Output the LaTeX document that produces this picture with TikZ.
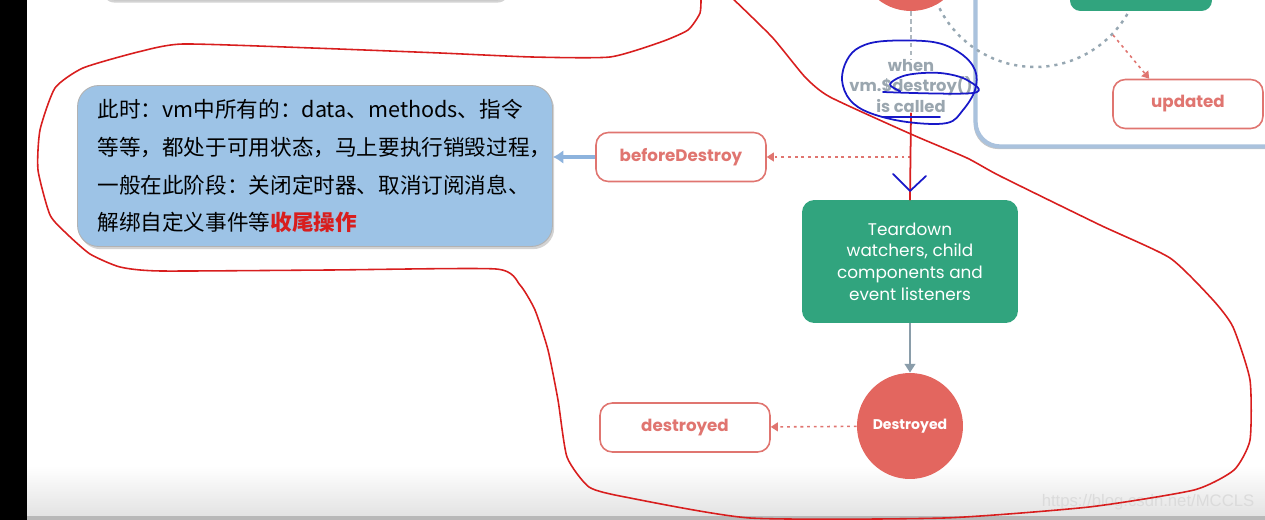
\documentclass[tikz,border=0pt]{standalone}
\usepackage{fontspec}
\newfontfamily\cjk{Noto Sans CJK SC}
\newfontfamily\vue{Poppins}
\newfontfamily\wm{Liberation Sans}
\usetikzlibrary{positioning, arrows.meta, shadows}
\definecolor{vuered}{HTML}{E3665F}
\definecolor{boxred}{HTML}{E07570}
\definecolor{vuegreen}{HTML}{31A47E}
\definecolor{notefill}{HTML}{9DC3E6}
\definecolor{notearrow}{HTML}{8DB3DD}
\definecolor{gtext}{HTML}{9AA6AF}
\definecolor{garrow}{HTML}{8A9DAA}
\definecolor{panelline}{HTML}{AAC2DD}
\definecolor{penred}{HTML}{D81E1E}
\definecolor{penblue}{HTML}{1818C8}

\begin{document}
\begin{tikzpicture}[x=0.02cm, y=-0.02cm,
    every node/.style={inner sep=0pt},
    hook/.style={draw=boxred, line width=0.9pt, fill=white, rounded corners=7pt,
                 minimum width=3.4cm, minimum height=0.98cm, text=boxred,
                 font=\vue\bfseries\fontsize{9.5}{11}\selectfont},
    state/.style={circle, fill=vuered, minimum size=2.12cm, text=white,
                  font=\vue\bfseries\fontsize{8}{9}\selectfont},
    hookarrow/.style={draw=boxred, line width=0.9pt, dash pattern=on 1.6pt off 2.2pt,
                      -{Triangle[length=4pt,width=5pt]}},
    pen/.style={line width=1pt, line cap=round, line join=round},
  ]
  \useasboundingbox (0,0) rectangle (1265,520);
  \clip (0,0) rectangle (1265,520);

  % screen background
  \shade[top color=white, bottom color=black!11] (0,466) rectangle (1265,516);
  \fill[black!28] (0,516) rectangle (1265,520);
  \fill[black] (0,0) rectangle (27,520);

  % previous slide parts
  \node[draw=black!25, fill=white, rounded corners=8pt, minimum width=8.2cm,
        minimum height=2cm, drop shadow={shadow xshift=0pt, shadow yshift=-1.5pt, opacity=0.35}]
    (topbox) at (306,-50) {};
  \node[draw=panelline, line width=2.4pt, fill=white, rounded corners=14pt,
        minimum width=6.9cm, minimum height=4.14cm,
        drop shadow={shadow xshift=-1pt, shadow yshift=-1.5pt, opacity=0.45}]
    (cycle) at (1148,43) {};
  \draw[draw=garrow!90, line width=1.4pt, dash pattern=on 1.8pt off 2.8pt]
    (1035,-40) circle[radius=107];
  \coordinate (looppt) at (1113,35);
  \node[fill=vuegreen, rounded corners=6pt, minimum width=2.84cm, minimum height=1.2cm]
    (patch) at (1141,-19) {};
  \node[hook, minimum width=3cm] (updated) at (1188,104) {updated};
  \draw[hookarrow] (looppt) -- ([xshift=0.74cm]updated.north west);

  % destroy part
  \node[state] (mounted) at (911,-42) {};
  \node[font=\vue\bfseries\fontsize{9.3}{11.8}\selectfont, text=gtext, align=center]
    (when) at (911,86) {when\\vm.\$destroy()\\is called};
  \draw[draw=gtext!80, line width=0.9pt, dash pattern=on 2.5pt off 2pt]
    (mounted) -- (when);

  \node[fill=vuegreen, rounded corners=7pt, minimum width=4.32cm, minimum height=2.46cm,
        text=white, align=center, font=\vue\fontsize{9.6}{12.3}\selectfont]
    (teardown) at (910,261.5) {Teardown\\watchers, child\\components and\\event listeners};
  \node[state] (destroyedst) at (910,426) {Destroyed};
  \draw[draw=garrow, line width=1.6pt, -{Triangle[length=5pt,width=6pt]}]
    (teardown) -- (destroyedst);

  \node[hook] (beforedestroy) at (681,157) {beforeDestroy};
  \node[hook] (destroyed) at (685,427.5) {destroyed};
  \coordinate (calledpt) at (911,157);
  \draw[hookarrow] (calledpt) -- (beforedestroy);
  \draw[hookarrow] (destroyedst) -- (destroyed);

  % note
  \node[fill=notefill, draw=black!30, line width=0.5pt, rounded corners=12pt,
        text width=8.7cm, inner xsep=0.4cm, minimum height=3.22cm, align=left,
        font=\cjk\fontsize{12.3}{21.6}\selectfont,
        drop shadow={shadow xshift=1pt, shadow yshift=-1.5pt, opacity=0.35}]
    (note) at (315,166)
    {此时：vm中所有的：data、methods、指令\\
     等等，都处于可用状态，马上要执行销毁过程，\\
     一般在此阶段：关闭定时器、取消订阅消息、\\
     解绑自定义事件等\textcolor{penred}{\bfseries 收尾操作}};
  \draw[draw=notearrow, line width=2.4pt, -{Latex[length=6pt,width=8pt]}]
    (beforedestroy.west) -- (beforedestroy.west -| note.east);

  \node[font=\wm\fontsize{9.5}{10}\selectfont, text=white!72!gray]
    (wmark) at (1148,502) {https://blog.csdn.net/MCCLS};

  % pen marks
  \draw[pen, penred] (when.south) -- (teardown.north);
  \draw[pen, penblue] (893,174) -- (910,191) -- (926,176);
  \draw[pen, penblue] plot[smooth cycle, tension=0.6] coordinates {
    (885,41) (933,42) (960,53) (975,70) (975,90) (963,110) (947,123)
    (907,122) (870,113) (850,100) (842,80) (847,60) (860,47)};
  \draw[pen, penblue] plot[smooth, tension=0.6] coordinates {
    (883,92) (973,93) (967,80) (940,73) (907,75) (890,84) (900,91)};
  \draw[pen, penblue] (883,117) -- (940,117);
  \draw[pen, penred, line width=0.9pt] plot[smooth, tension=0.35] coordinates {
    (701,-5) (700,13) (688,30) (661,42) (610,57) (532,57) (440,53) (312,48)
    (183,44) (138,52) (83,68) (55,88) (40,130) (38,170) (50,215) (67,234)
    (90,254) (120,267) (161,271) (330,270) (496,269) (520,285) (535,310)
    (548,350) (558,400) (567,457) (589,487) (625,497) (750,518) (944,518)
    (1089,507) (1194,490) (1234,470) (1250,440) (1250,380) (1233,327)
    (1213,300) (1170,258) (1100,225) (1000,176) (967,158) (913,135) (830,97)
    (805,77) (772,37) (729,-5)};
\end{tikzpicture}
\end{document}
